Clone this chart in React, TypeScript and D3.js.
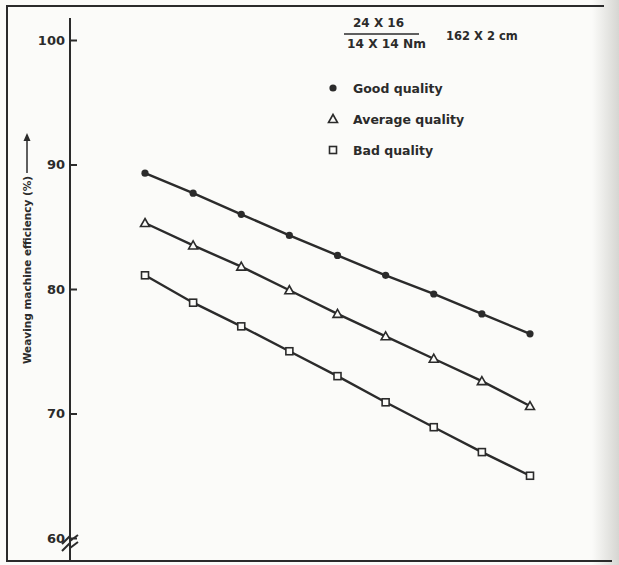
// Weaving machine efficiency vs. step, three cloth qualities (scanned chart)
import React, { useEffect, useRef } from 'react';
import * as d3 from 'd3';

const steps = [1, 2, 3, 4, 5, 6, 7, 8, 9];
const goodQuality = [89.3, 87.7, 86.0, 84.3, 82.7, 81.1, 79.6, 78.0, 76.4];
const averageQuality = [85.3, 83.5, 81.8, 79.9, 78.0, 76.2, 74.4, 72.6, 70.6];
const badQuality = [81.1, 78.9, 77.0, 75.0, 73.0, 70.9, 68.9, 66.9, 65.0];
const yTicks = [60, 70, 80, 90, 100];
const legendLabels = ['Good quality', 'Average quality', 'Bad quality'];

const INK = '#2b2b2b';
const FONT = '"DejaVu Sans", sans-serif';

const App: React.FC = () => {
  const ref = useRef<SVGSVGElement>(null);

  useEffect(() => {
    if (!ref.current) return;
    const svg = d3.select(ref.current);
    svg.selectAll('*').remove();

    const width = 619;
    const height = 565;

    svg.append('rect').attr('width', width).attr('height', height).attr('fill', '#fbfbf9');

    // scan shadow on the right edge
    const defs = svg.append('defs');
    const grad = defs.append('linearGradient').attr('id', 'edge').attr('x1', 0).attr('x2', 1);
    grad.append('stop').attr('offset', 0).attr('stop-color', '#fbfbf9');
    grad.append('stop').attr('offset', 1).attr('stop-color', '#d6d6d2');
    svg.append('rect').attr('x', 592).attr('y', 0).attr('width', 27).attr('height', height).attr('fill', 'url(#edge)');

    // frame
    svg.append('path')
      .attr('d', 'M604,6 L7,6 L7,561 L612,561')
      .attr('fill', 'none')
      .attr('stroke', INK)
      .attr('stroke-width', 2);

    const x = d3.scalePoint<number>().domain(steps).range([145, 530]);
    const y = d3.scaleLinear().domain([60, 100]).range([538, 40]);

    // y axis line
    svg.append('line')
      .attr('x1', 70).attr('x2', 70)
      .attr('y1', 18).attr('y2', 561)
      .attr('stroke', INK).attr('stroke-width', 2);

    const axis = svg.append('g').attr('transform', 'translate(70,0)')
      .call(d3.axisRight(y).tickValues(yTicks).tickSize(7).tickFormat(() => ''));
    axis.select('.domain').remove();
    axis.selectAll('line').attr('stroke', INK).attr('stroke-width', 2);

    svg.append('g')
      .selectAll('text')
      .data(yTicks)
      .join('text')
      .attr('x', 65)
      .attr('y', (d) => y(d))
      .attr('dy', '0.36em')
      .attr('text-anchor', 'end')
      .style('font-family', FONT)
      .style('font-size', '13px')
      .style('font-weight', 'bold')
      .attr('fill', INK)
      .text((d) => d);

    // axis break
    svg.append('rect').attr('x', 66).attr('y', 539).attr('width', 8).attr('height', 7).attr('fill', '#fbfbf9');
    svg.append('path')
      .attr('d', 'M62,544 L70,536 L70,541 L78,535 M62,551 L70,543 L70,548 L78,542')
      .attr('fill', 'none')
      .attr('stroke', INK)
      .attr('stroke-width', 2);

    // y label
    const yl = svg.append('g').attr('transform', 'translate(31,270) rotate(-90)');
    yl.append('text')
      .attr('x', 0)
      .attr('y', 0)
      .attr('text-anchor', 'middle')
      .style('font-family', FONT)
      .style('font-size', '10.5px')
      .style('font-weight', 'bold')
      .attr('fill', INK)
      .text('Weaving machine efficiency (%)');
    yl.append('line')
      .attr('x1', 97).attr('x2', 135)
      .attr('y1', -4).attr('y2', -4)
      .attr('stroke', INK).attr('stroke-width', 1.5);
    yl.append('path')
      .attr('d', 'M137,-4 L129,-7.5 L129,-0.5 Z')
      .attr('fill', INK);

    const line = d3.line<number>()
      .x((_, i) => x(steps[i]) as number)
      .y((d) => y(d));

    const series = [goodQuality, averageQuality, badQuality];
    series.forEach((data) => {
      svg.append('path')
        .datum(data)
        .attr('fill', 'none')
        .attr('stroke', INK)
        .attr('stroke-width', 2.4)
        .attr('d', line);
    });

    const drawMarker = (g: d3.Selection<SVGGElement, unknown, null, undefined>, kind: number, cx: number, cy: number) => {
      if (kind === 0) {
        g.append('circle').attr('cx', cx).attr('cy', cy).attr('r', 3.6).attr('fill', INK);
      } else if (kind === 1) {
        g.append('path')
          .attr('d', `M${cx},${cy - 4.5} L${cx + 4.5},${cy + 3.5} L${cx - 4.5},${cy + 3.5} Z`)
          .attr('fill', '#fbfbf9').attr('stroke', INK).attr('stroke-width', 1.6);
      } else {
        g.append('rect')
          .attr('x', cx - 3.5).attr('y', cy - 3.5).attr('width', 7).attr('height', 7)
          .attr('fill', '#fbfbf9').attr('stroke', INK).attr('stroke-width', 1.6);
      }
    };

    const markers = svg.append('g');
    series.forEach((data, k) => {
      data.forEach((v, i) => drawMarker(markers, k, x(steps[i]) as number, y(v)));
    });

    // header text
    const txt = (tx: number, ty: number, s: string, size = 11.5) =>
      svg.append('text')
        .attr('x', tx).attr('y', ty)
        .style('font-family', FONT)
        .style('font-size', `${size}px`)
        .style('font-weight', 'bold')
        .attr('fill', INK)
        .text(s);

    txt(353, 27, '24 X 16', 12);
    svg.append('line').attr('x1', 344).attr('x2', 419).attr('y1', 34).attr('y2', 34)
      .attr('stroke', INK).attr('stroke-width', 1.5);
    txt(347, 48, '14 X 14 Nm', 12.2);
    txt(446, 40, '162 X 2 cm', 11.5);

    // legend
    const legend = svg.append('g');
    legendLabels.forEach((label, k) => {
      const ly = 88 + k * 31;
      drawMarker(legend, k, 333, ly);
      txt(353, ly + 4.5, label, 12.5);
    });
  }, []);

  return (
    <svg
      ref={ref}
      width={619}
      height={565}
      style={{ position: 'absolute', left: 0, top: 0, display: 'block' }}
    />
  );
};

export default App;
